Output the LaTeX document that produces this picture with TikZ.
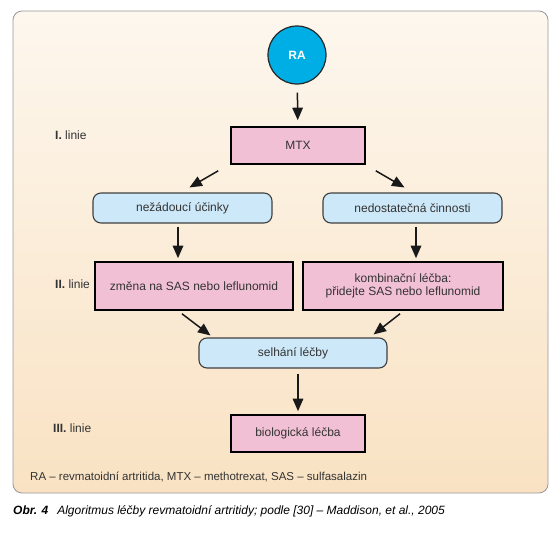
\documentclass[tikz,border=0pt]{standalone}
\usepackage{fontspec}
\setmainfont{Liberation Sans}
\usetikzlibrary{arrows.meta}
\definecolor{rablue}{HTML}{00AEE6}
\definecolor{boxpink}{HTML}{F2C0D4}
\definecolor{boxblue}{HTML}{CDE8F8}
\definecolor{paneltop}{HTML}{FDF7EE}
\definecolor{panelbot}{HTML}{F9E2C3}
\definecolor{txt}{HTML}{333333}
\begin{document}
\begin{tikzpicture}[x=1pt, y=-1pt,
		every node/.style={font=\fontsize{12}{13}\selectfont, text=txt},
		pinkbox/.style={draw=black, line width=1.6pt, fill=boxpink, minimum width=134pt, minimum height=37pt, inner sep=0pt, align=center},
		bluebox/.style={draw=black!75, line width=1.1pt, fill=boxblue, rounded corners=8pt, minimum height=30pt, inner sep=0pt},
		linie/.style={anchor=west, inner sep=0pt},
		arr/.style={-{Triangle[length=12.5pt,width=10.5pt]}, line width=1.5pt, black!90}]
	\useasboundingbox (0,0) rectangle (560,533);
	\shade[top color=paneltop, bottom color=panelbot, rounded corners=9pt] (13,11) rectangle (548,493);
	\draw[black!40, line width=0.8pt, rounded corners=9pt] (13,11) rectangle (548,493);
	% boxes
	\node[circle, draw=black!85, line width=1.2pt, fill=rablue, minimum size=58pt, inner sep=0pt, text=white, font=\fontsize{12}{13}\selectfont\bfseries] (ra) at (297,55) {RA};
	\node[pinkbox] (mtx) at (298,145.5) {MTX};
	\node[bluebox, minimum width=179pt] (nez) at (182.5,208) {nežádoucí účinky};
	\node[bluebox, minimum width=179pt] (ned) at (412.5,208) {nedostatečná činnosti};
	\node[pinkbox, minimum width=198pt, minimum height=48pt] (zmena) at (194,286) {změna na SAS nebo leflunomid};
	\node[pinkbox, minimum width=200pt, minimum height=48pt] (komb) at (403,286) {kombinační léčba:\\přidejte SAS nebo leflunomid};
	\node[bluebox, minimum width=188pt] (sel) at (293,353) {selhání léčby};
	\node[pinkbox] (bio) at (298,433.5) {biologická léčba};
	% linie
	\node[linie] (l1) at (55,135) {\textbf{I.} linie};
	\node[linie] (l2) at (55,284) {\textbf{II.} linie};
	\node[linie] (l3) at (53,428) {\textbf{III.} linie};
	\node[linie, font=\fontsize{11.5}{13}\selectfont] (leg) at (30,477) {RA – revmatoidní artritida, MTX – methotrexat, SAS – sulfasalazin};
	\node[linie, text=black] (cap) at (13,511) {\textbf{\textit{Obr. 4}}\hspace{9pt}\textit{Algoritmus léčby revmatoidní artritidy; podle [30] – Maddison, et al., 2005}};
	% arrows
	\draw[arr, shorten <=8pt, shorten >=6pt] (ra) -- (mtx);
	\draw[arr] ([shift={(-12,6)}]mtx.south west) -- ([shift={(7,-5)}]nez.north);
	\draw[arr] ([shift={(10,6)}]mtx.south east) -- ([shift={(-8,-5)}]ned.north);
	\draw[arr] ([shift={(-4.5,3)}]nez.south) -- ([shift={(-16,-3)}]zmena.north);
	\draw[arr] ([shift={(3.5,3)}]ned.south) -- ([shift={(13,-3)}]komb.north);
	\draw[arr] ([shift={(-12,3)}]zmena.south) -- ([shift={(12,-2)}]sel.north west);
	\draw[arr] ([shift={(-3,3)}]komb.south) -- ([shift={(-14,-3)}]sel.north east);
	\draw[arr] ([shift={(5,5)}]sel.south) -- ([shift={(0,-3)}]bio.north);
\end{tikzpicture}
\end{document}
